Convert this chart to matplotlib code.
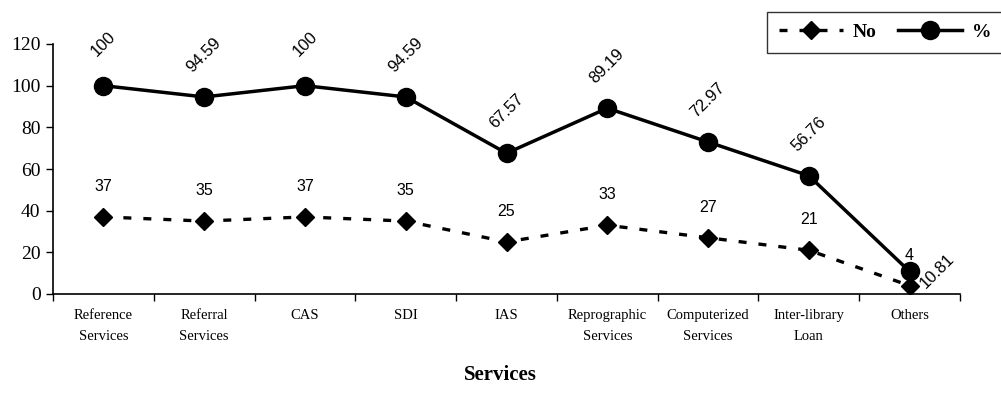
import matplotlib
matplotlib.use("Agg")
import matplotlib.pyplot as plt
from matplotlib.lines import Line2D

categories = ["Reference\nServices", "Referral\nServices", "CAS", "SDI", "IAS",
              "Reprographic\nServices", "Computerized\nServices", "Inter-library\nLoan", "Others"]
no_values = [37, 35, 37, 35, 25, 33, 27, 21, 4]
pct_values = [100, 94.59, 100, 94.59, 67.57, 89.19, 72.97, 56.76, 10.81]
pct_labels = ["100", "94.59", "100", "94.59", "67.57", "89.19", "72.97", "56.76", "10.81"]
y_ticks = [0, 20, 40, 60, 80, 100, 120]

fig = plt.figure(figsize=(10.01, 4.12), dpi=100)
ax = fig.add_axes([53/1001, 1-294/412, (960-53)/1001, (294-44)/412])

dash = (0, (2.4, 3.6))
x = [i + 0.5 for i in range(len(categories))]
ax.plot(x, no_values, color="black", lw=2.4, ls=dash, marker="D", markersize=9, label="No")
ax.plot(x, pct_values, color="black", lw=2.5, ls="-", marker="o", markersize=13, label="%")

for i, (xi, v) in enumerate(zip(x, no_values)):
    ax.annotate(str(v), (xi, v), xytext=(0, 22), textcoords="offset points",
                ha="center", va="center", fontsize=11.5, family="Liberation Sans")
for i, (xi, v) in enumerate(zip(x, pct_values)):
    off = (0, 30) if i < len(x) - 1 else (20, 0)
    ax.annotate(pct_labels[i], (xi, v), xytext=off, textcoords="offset points",
                ha="center", va="center", fontsize=12, family="Liberation Sans", rotation=45)

ax.set_xlim(0, len(categories))
ax.set_ylim(0, 120)
ax.set_yticks(y_ticks)
ax.set_yticklabels([str(t) for t in y_ticks], family="Liberation Serif", fontsize=14)
ax.set_xticks(range(len(categories) + 1))
ax.set_xticklabels([])
ax.set_xticks(x, minor=True)
ax.set_xticklabels(categories, minor=True, family="Liberation Serif", fontsize=10.5, linespacing=1.75)
ax.tick_params(axis="x", which="minor", length=0, pad=11)
ax.tick_params(axis="x", which="major", length=5, direction="out", width=1)
ax.tick_params(axis="y", length=5, direction="out", width=1, pad=4)
for s in ["top", "right"]:
    ax.spines[s].set_visible(False)
for s in ["left", "bottom"]:
    ax.spines[s].set_linewidth(1.2)

fig.text(500/1001, 1-375/412, "Services", ha="center", va="center",
         family="Liberation Serif", fontweight="bold", fontsize=15)

handles = [Line2D([], [], color="black", lw=2.4, ls=dash, marker="D", markersize=9),
           Line2D([], [], color="black", lw=2.5, marker="o", markersize=13)]
leg = fig.legend(handles, ["No", "%"], loc="upper left", bbox_to_anchor=(767/1001, 1-12/412),
                 ncol=2, frameon=True, fancybox=False, edgecolor="black", handlelength=3.3,
                 columnspacing=1.1, handletextpad=0.5, borderaxespad=0, borderpad=0.6,
                 prop={"family": "Liberation Serif", "weight": "bold", "size": 14})
leg.get_frame().set_linewidth(1)

fig.savefig("out.png", dpi=100)
